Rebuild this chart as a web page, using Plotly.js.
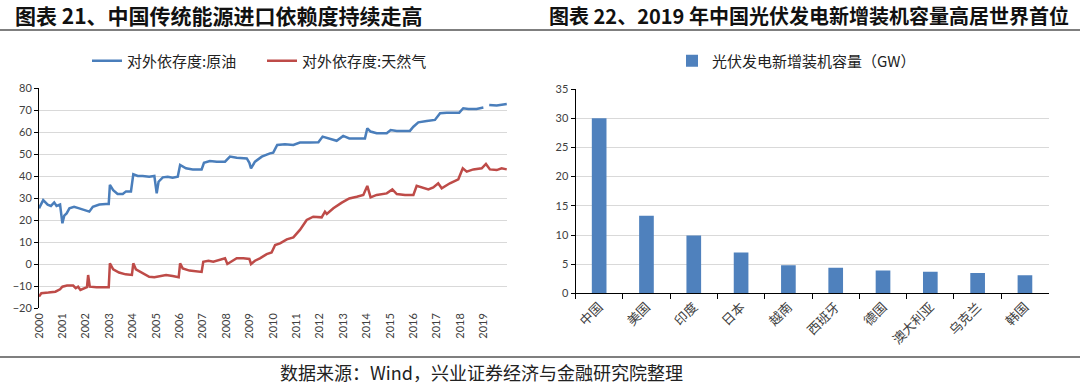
<!DOCTYPE html>
<html><head><meta charset="utf-8">
<script src="https://cdn.plot.ly/plotly-3.0.1.min.js"></script>
<style>html,body{margin:0;padding:0;background:#fff}#chart{width:1080px;height:389px}</style>
</head><body><div id="chart"></div>
<script>
// ---- data ----
const oilYears = [2000.0,2000.18,2000.37,2000.51,2000.65,2000.75,2000.9,2001.0,2001.08,2001.18,2001.3,2001.5,2001.72,2002.0,2002.15,2002.3,2002.58,2002.86,2002.98,2003.03,2003.17,2003.36,2003.58,2003.72,2003.93,2004.03,2004.22,2004.43,2004.71,2004.93,2005.03,2005.11,2005.29,2005.5,2005.71,2005.93,2006.03,2006.28,2006.57,2006.95,2007.05,2007.3,2007.6,2007.95,2008.16,2008.45,2008.88,2008.99,2009.06,2009.23,2009.52,2009.87,2010.01,2010.18,2010.51,2010.87,2011.15,2011.58,2011.94,2012.12,2012.44,2012.72,2013.0,2013.26,2013.93,2014.03,2014.17,2014.43,2014.86,2015.03,2015.29,2015.85,2016.0,2016.21,2016.57,2016.92,2017.14,2017.42,2017.96,2018.13,2018.35,2018.7,2018.99,2019.1,2019.24,2019.56,2019.99];
const oilValues = [25.3,29,27,26.4,28,26.4,27,18.5,22,23,25.3,26,25.3,24.2,23.8,26,27,27.3,27.3,36,33.6,31.8,31.8,33,33,40.8,40,40,39.7,40,32.1,37.4,39.4,39.7,39.2,39.7,45,43.5,43,43,46,46.8,46.5,46.5,48.8,48.3,48,46,43.5,46.5,48.8,50.3,50.6,54.1,54.4,54.1,55.2,55.2,55.3,57.9,56.8,56,58.2,57.1,57.1,61.7,60.2,59.4,59.4,60.9,60.5,60.5,62.4,64.4,65,65.5,68.5,68.8,68.8,70.8,70.5,70.5,71.1,null,72.3,72,72.7];
const gasYears = [2000.0,2000.1,2000.4,2000.7,2000.9,2001.0,2001.2,2001.46,2001.57,2001.67,2001.77,2001.96,2002.05,2002.1,2002.17,2002.46,2002.75,2002.98,2003.03,2003.17,2003.42,2003.7,2003.97,2004.03,2004.14,2004.43,2004.71,2004.93,2005.14,2005.43,2005.71,2005.97,2006.03,2006.14,2006.43,2006.74,2006.95,2007.02,2007.24,2007.45,2007.74,2007.95,2008.05,2008.23,2008.45,2008.73,2008.99,2009.06,2009.23,2009.44,2009.73,2009.94,2010.09,2010.3,2010.59,2010.87,2011.15,2011.44,2011.72,2012.08,2012.22,2012.3,2012.58,2012.94,2013.26,2013.58,2013.86,2014.03,2014.17,2014.43,2014.86,2015.1,2015.29,2015.64,2016.0,2016.14,2016.35,2016.64,2016.85,2017.06,2017.21,2017.56,2017.92,2018.11,2018.28,2018.56,2018.92,2019.1,2019.27,2019.56,2019.77,2019.99];
const gasValues = [-14.8,-13.3,-13,-12.6,-11.5,-10.3,-9.8,-9.8,-11,-10.3,-11.8,-11,-10.5,-5,-10.3,-10.6,-10.6,-10.6,0.3,-2.4,-3.9,-4.7,-5,0.3,-2.4,-4.2,-5.8,-6,-5.5,-5,-5.5,-6,0.3,-2,-3,-3.5,-3.6,1,1.5,1,2.1,2.6,0,1,2.6,2.6,2.3,0,1.5,2.6,4.5,5.2,8.6,9.4,11.2,12.1,15.5,20,21.5,21.2,23.8,22.7,25.3,27.9,29.8,30.6,31.4,35.5,30.3,31.4,32.1,33.9,31.8,31.4,31.4,35.5,34.8,33.9,34.8,36.7,34.4,36.7,38.5,43.5,42,43,43.5,45.5,43,42.7,43.5,43];
const yearTicks = [2000,2001,2002,2003,2004,2005,2006,2007,2008,2009,2010,2011,2012,2013,2014,2015,2016,2017,2018,2019];
const oilName = '对外依存度:原油';
const gasName = '对外依存度:天然气';

const pvCountries = ['中国','美国','印度','日本','越南','西班牙','德国','澳大利亚','乌克兰','韩国'];
const pvValues = [30,13.3,9.9,7.0,4.8,4.4,3.9,3.7,3.5,3.1];
const pvName = '光伏发电新增装机容量（GW）';

const leftTitle = '图表 21、中国传统能源进口依赖度持续走高';
const rightTitle = '图表 22、2019 年中国光伏发电新增装机容量高居世界首位';
const sourceText = '数据来源：Wind，兴业证券经济与金融研究院整理';

// ---- layout helpers (pixel -> paper) ----
const W = 1080, H = 389;
const px = v => v / W;
const py = v => 1 - v / H;

const cjk = '"Noto Sans CJK SC", "Noto Sans", sans-serif';
const tickFont = {family: 'Lato, "Open Sans", sans-serif', size: 11, color: '#404040'};

const leftYRange = [-20, 80];
const leftYDomain = [py(308), py(88)];
const zeroPos = leftYDomain[0] + (0 - leftYRange[0]) / (leftYRange[1] - leftYRange[0]) * (leftYDomain[1] - leftYDomain[0]);

const traces = [
  {type: 'scatter', mode: 'lines', x: oilYears, y: oilValues, name: oilName,
   line: {color: '#4A7EBB', width: 2.5}, connectgaps: false, xaxis: 'x', yaxis: 'y', legend: 'legend'},
  {type: 'scatter', mode: 'lines', x: gasYears, y: gasValues, name: gasName,
   line: {color: '#BE4B48', width: 2.5}, xaxis: 'x', yaxis: 'y', legend: 'legend'},
  {type: 'bar', x: pvCountries, y: pvValues, name: pvName, marker: {color: '#4F81BD'},
   xaxis: 'x2', yaxis: 'y2', legend: 'legend2', showlegend: true}
];

const layout = {
  width: W, height: H,
  margin: {l: 0, r: 0, t: 0, b: 0, pad: 0},
  paper_bgcolor: '#fff', plot_bgcolor: '#fff',
  showlegend: true,
  xaxis: {domain: [px(39), px(507)], range: [2000, 2020], anchor: 'y',
    tickmode: 'array', tickvals: yearTicks, ticktext: yearTicks.map(String),
    tickangle: -90, tickfont: tickFont, showline: false, showgrid: false, zeroline: false, ticks: '', ticklabelstandoff: 2},
  xaxis3: {overlaying: 'x', anchor: 'free', position: zeroPos, range: [2000, 2020],
    tickmode: 'array', tickvals: yearTicks.slice(1), showticklabels: false,
    ticks: 'outside', ticklen: 4, tickcolor: '#000', tickwidth: 1,
    showline: true, linecolor: '#000', linewidth: 1, showgrid: false, zeroline: false},
  yaxis: {domain: leftYDomain, range: leftYRange, dtick: 10, anchor: 'x',
    tickfont: tickFont, showline: true, linecolor: '#000', linewidth: 1,
    ticks: 'outside', ticklen: 4, tickcolor: '#000', gridcolor: '#d9d9d9', zeroline: false},
  xaxis2: {domain: [px(575.5), px(1048.6)], anchor: 'y2', type: 'category',
    tickangle: -45, tickfont: {family: cjk, size: 13, color: '#404040'},
    showline: true, linecolor: '#000', linewidth: 1, ticks: 'outside', ticklen: 5,
    tickcolor: '#000', tickson: 'boundaries', showgrid: false},
  yaxis2: {domain: [py(293.4), py(89)], range: [0, 35], dtick: 5, anchor: 'x2',
    tickfont: tickFont, showline: true, linecolor: '#000', linewidth: 1,
    ticks: 'outside', ticklen: 4, tickcolor: '#000', gridcolor: '#d9d9d9', zeroline: false},
  bargap: 0.69,
  legend: {orientation: 'h', x: px(87), y: py(61), xanchor: 'left', yanchor: 'middle',
    font: {family: cjk, size: 15, color: '#222'}, entrywidth: 130, entrywidthmode: 'pixels',
    bgcolor: 'rgba(0,0,0,0)', itemwidth: 30},
  legend2: {orientation: 'h', x: px(672), y: py(61), xanchor: 'left', yanchor: 'middle',
    font: {family: cjk, size: 15, color: '#222'}, bgcolor: 'rgba(0,0,0,0)', itemwidth: 30},
  annotations: [
    {text: '<b>' + leftTitle + '</b>', xref: 'paper', yref: 'paper', x: px(13), y: py(15),
     xanchor: 'left', yanchor: 'middle', showarrow: false, font: {family: cjk, size: 21, color: '#111'}},
    {text: '<b>' + rightTitle + '</b>', xref: 'paper', yref: 'paper', x: px(547), y: py(15),
     xanchor: 'left', yanchor: 'middle', showarrow: false, font: {family: cjk, size: 20, color: '#111'}},
    {text: sourceText, xref: 'paper', yref: 'paper', x: px(278), y: py(372),
     xanchor: 'left', yanchor: 'middle', showarrow: false, font: {family: cjk, size: 18, color: '#222'}}
  ],
  shapes: [
    {type: 'line', xref: 'paper', yref: 'paper', x0: 0, x1: 1, y0: py(30), y1: py(30), line: {color: '#555', width: 1.5}},
    {type: 'line', xref: 'paper', yref: 'paper', x0: 0, x1: 1, y0: py(357), y1: py(357), line: {color: '#555', width: 1.5}}
  ]
};

Plotly.newPlot('chart', traces, layout, {staticPlot: true, displayModeBar: false});
</script></body></html>
